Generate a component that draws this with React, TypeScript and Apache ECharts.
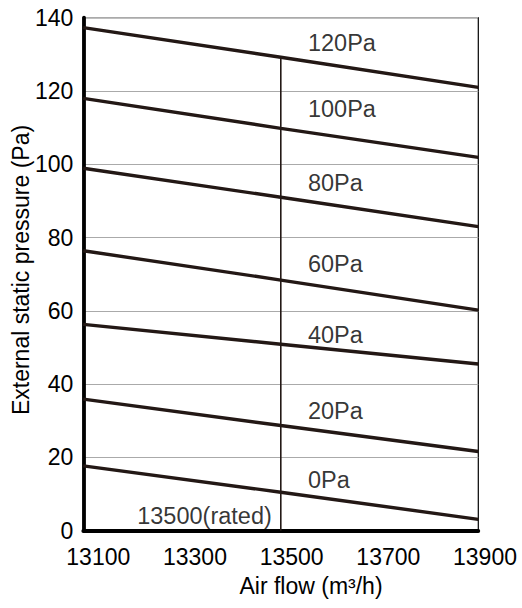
import React, { useEffect, useRef } from "react";
import * as echarts from "echarts";

const xTicks = [13100, 13300, 13500, 13700, 13900];
const yTicks = [0, 20, 40, 60, 80, 100, 120, 140];
const flowPoints = [13100, 13500, 13900];

const curveNames = ["120Pa", "100Pa", "80Pa", "60Pa", "40Pa", "20Pa", "0Pa"];
const curve120 = [137.3, 129.2, 121.0];
const curve100 = [118.0, 109.8, 101.9];
const curve80 = [98.9, 91.0, 83.0];
const curve60 = [76.4, 68.4, 60.2];
const curve40 = [56.3, 50.9, 45.5];
const curve20 = [35.9, 28.7, 21.6];
const curve0 = [17.7, 10.5, 3.1];
const curves = [curve120, curve100, curve80, curve60, curve40, curve20, curve0];

const labelFlow = 13555;
const labelPressures = [133.2, 115.0, 95.0, 72.7, 53.5, 32.6, 13.8];

const ratedFlow = 13500;
const ratedLineTop = 129;
const ratedLabel = "13500(rated)";
const ratedLabelPressure = 4.1;

const xTitle = "Air flow (m³/h)";
const yTitle = "External static pressure (Pa)";

const FONT = "Arial, 'Liberation Sans', sans-serif";
const LINE = "#231815";

export default function App() {
  const ref = useRef<HTMLDivElement>(null);
  useEffect(() => {
    if (!ref.current) return;
    const chart = echarts.init(ref.current, undefined, { renderer: "svg" });
    const gridPos = { left: 83.3, right: 43.7, top: 17.7, bottom: 77.3 };
    const series: any[] = curves.map((vals, i) => ({
      type: "line",
      name: curveNames[i],
      xAxisIndex: 0,
      yAxisIndex: 0,
      data: flowPoints.map((x, j) => [x, vals[j]]),
      showSymbol: false,
      symbol: "none",
      lineStyle: { color: LINE, width: 3.4 },
      z: 3,
    }));
    series.push({
      type: "line",
      name: "rated",
      data: [
        [ratedFlow, 0],
        [ratedFlow, ratedLineTop],
      ],
      symbol: "none",
      lineStyle: { color: LINE, width: 1.6 },
      z: 2,
    });
    series.push({
      type: "scatter",
      name: "labels",
      symbolSize: 0,
      itemStyle: { color: "transparent" },
      data: curveNames.map((n, i) => ({ name: n, value: [labelFlow, labelPressures[i]] })),
      label: {
        show: true,
        position: "right",
        distance: 0,
        formatter: (p: any) => p.name,
        color: "#000",
        fontSize: 23.5,
        fontFamily: FONT,
      },
      z: 5,
    });
    series.push({
      type: "scatter",
      name: "ratedLabel",
      symbolSize: 0,
      itemStyle: { color: "transparent" },
      data: [{ name: ratedLabel, value: [ratedFlow, ratedLabelPressure] }],
      label: {
        show: true,
        position: "left",
        distance: 9,
        formatter: (p: any) => p.name,
        color: "#000",
        fontSize: 23.5,
        fontFamily: FONT,
      },
      z: 5,
    });
    chart.setOption({
      animation: false,
      backgroundColor: "#fff",
      grid: [
        { ...gridPos, show: true, borderColor: "#000", borderWidth: 1.2, backgroundColor: "transparent" },
        { left: 98.3, right: 37, top: 17.7, bottom: 77.3, show: false },
      ],
      xAxis: [
        {
          type: "value",
          gridIndex: 0,
          min: xTicks[0],
          max: xTicks[xTicks.length - 1],
          interval: 200,
          axisLine: { show: true, lineStyle: { color: "#000", width: 3.8 } },
          axisTick: { show: false },
          axisLabel: { show: false },
          splitLine: { show: false },
        },
        {
          type: "value",
          gridIndex: 1,
          min: xTicks[0],
          max: xTicks[xTicks.length - 1],
          interval: 200,
          axisLine: { show: false },
          axisTick: { show: false },
          splitLine: { show: false },
          axisLabel: {
            show: true,
            margin: 15,
            color: "#000",
            fontSize: 23,
            fontFamily: FONT,
            formatter: (v: number) => String(v),
          },
        },
      ],
      yAxis: [
        {
          type: "value",
          gridIndex: 0,
          min: yTicks[0],
          max: yTicks[yTicks.length - 1],
          interval: 20,
          axisLine: { show: true, lineStyle: { color: "#000", width: 3.8 } },
          axisTick: { show: false },
          axisLabel: {
            show: true,
            margin: 10,
            color: "#000",
            fontSize: 23,
            fontFamily: FONT,
          },
          splitLine: { show: true, lineStyle: { color: "#aaaaaa", width: 1.2 } },
        },
        {
          type: "value",
          gridIndex: 1,
          show: false,
          min: 0,
          max: 140,
        },
      ],
      graphic: [
        {
          type: "text",
          x: 311,
          y: 586,
          style: {
            text: xTitle,
            fill: "#000",
            font: `23px ${FONT}`,
            textAlign: "center",
            textVerticalAlign: "middle",
          },
        },
        {
          type: "text",
          x: 21,
          y: 270,
          rotation: Math.PI / 2,
          style: {
            text: yTitle,
            fill: "#000",
            font: `23px ${FONT}`,
            textAlign: "center",
            textVerticalAlign: "middle",
          },
        },
      ],
      series,
    });
    return () => chart.dispose();
  }, []);
  return (
    <div
      ref={ref}
      style={{ position: "fixed", left: 0, top: 0, width: 522, height: 608, background: "#fff" }}
    />
  );
}
